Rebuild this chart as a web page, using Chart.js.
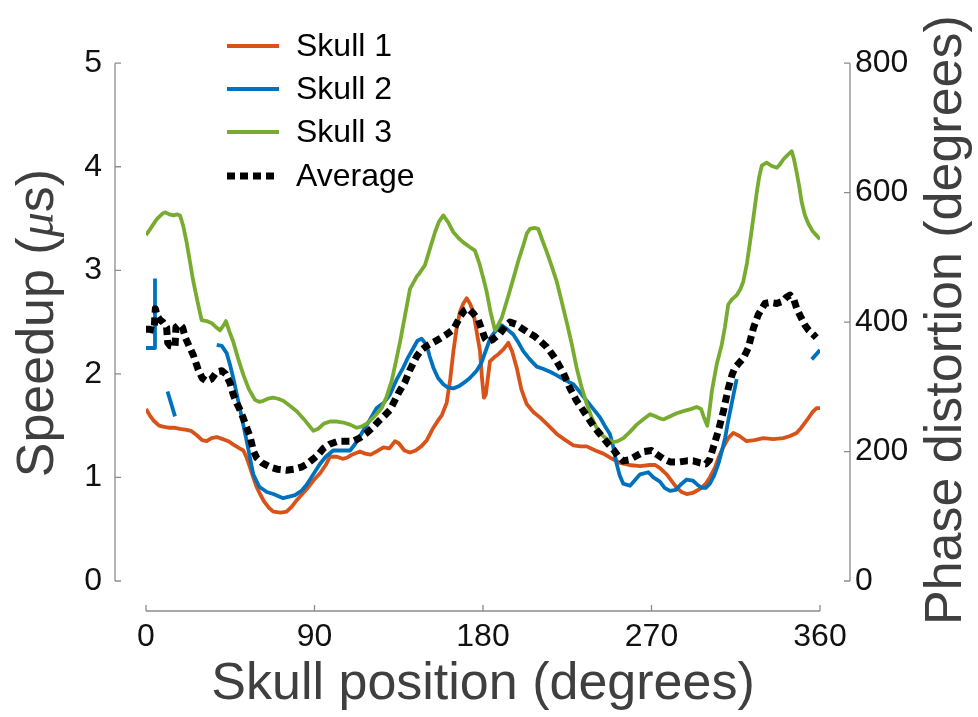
<!DOCTYPE html>
<html><head><meta charset="utf-8">
<script src="https://cdn.jsdelivr.net/npm/chart.js@4/dist/chart.umd.min.js"></script>
<style>html,body{margin:0;padding:0;background:#fff;overflow:hidden}canvas{display:block}</style>
</head><body>
<canvas id="c" width="978" height="717"></canvas>
<script>
// ---- data ----
const xTicks = [0, 90, 180, 270, 360];
const leftTicks = [0, 1, 2, 3, 4, 5];
const rightTicks = [0, 200, 400, 600, 800];
const seriesNames = ['Skull 1', 'Skull 2', 'Skull 3', 'Average'];
const xTitle = 'Skull position (degrees)';
const leftTitle = ['Speedup (', 'μ', 's)'];
const rightTitle = 'Phase distortion (degrees)';

// [degrees, speedup]
const skull1 = [[0,1.66],[2,1.6],[4,1.55],[7,1.5],[9,1.49],[12,1.48],[15,1.48],[18,1.47],[21.7,1.46],[24,1.45],[27,1.41],[30,1.36],[32.4,1.35],[35,1.38],[37.8,1.39],[41,1.37],[44,1.35],[46.5,1.32],[50,1.28],[52,1.26],[53.8,1.19],[55.5,1.1],[57.3,1.0],[59,0.91],[60.9,0.84],[63,0.77],[65.5,0.71],[68,0.67],[72,0.66],[75.1,0.67],[78,0.72],[80.5,0.78],[83,0.83],[86,0.89],[89.4,0.97],[93,1.04],[96,1.12],[98.3,1.2],[102,1.2],[105,1.18],[107.2,1.19],[110,1.22],[114.3,1.25],[117,1.23],[120,1.22],[123,1.25],[126.8,1.29],[130,1.28],[133,1.35],[135,1.33],[138,1.26],[141,1.24],[144,1.26],[147,1.3],[150,1.36],[153.5,1.48],[156,1.55],[158,1.6],[160.6,1.72],[162.5,1.95],[164.2,2.22],[166,2.45],[167.7,2.6],[169.5,2.68],[171.3,2.73],[173,2.68],[174.8,2.6],[176.5,2.42],[178.4,2.22],[179.5,1.95],[180.5,1.77],[181.5,1.8],[183.7,2.12],[186,2.16],[188.2,2.19],[191,2.24],[193.5,2.3],[195.5,2.22],[198,2.06],[200.5,1.85],[203.3,1.71],[207,1.63],[210.4,1.58],[215,1.5],[219.4,1.42],[224,1.36],[228.3,1.31],[232,1.3],[235.4,1.3],[240,1.26],[244.3,1.23],[249,1.18],[253.2,1.14],[258,1.12],[263.9,1.11],[269,1.12],[272,1.12],[274.5,1.09],[278.1,1.03],[281,0.96],[283.5,0.9],[286,0.86],[288.8,0.84],[292,0.85],[295.9,0.89],[299,0.94],[301.2,1.0],[304,1.1],[306,1.2],[308.3,1.29],[311,1.38],[313.7,1.43],[317,1.4],[320.8,1.35],[325,1.36],[329.7,1.38],[335,1.37],[340.4,1.38],[344,1.4],[347.5,1.43],[350,1.48],[352.9,1.55],[356,1.63],[358.2,1.67],[360,1.67]];

// null = missing sample (gap in the line)
const skull2 = [[0,2.25],[4.4,2.25],[4.8,2.92],[7,null],[11.5,1.83],[15.5,1.59],[25,null],[37.8,2.28],[40.5,2.27],[43.1,2.2],[45,2.08],[46.6,1.96],[50.2,1.66],[53.8,1.35],[57.3,1.03],[60.5,0.91],[64.5,0.86],[68,0.84],[73.3,0.8],[79.6,0.83],[83,0.87],[85.8,0.93],[89.4,1.03],[92.9,1.13],[96,1.2],[100,1.26],[105,1.26],[109,1.26],[112,1.33],[116,1.45],[120,1.57],[123.2,1.67],[127,1.72],[130.3,1.8],[134,1.95],[137.4,2.06],[140,2.16],[142.8,2.25],[145,2.32],[147.2,2.34],[149.9,2.28],[151.5,2.17],[153.5,2.06],[156,1.96],[158.8,1.9],[161,1.87],[164.2,1.86],[167,1.88],[169.5,1.91],[173,1.96],[176.6,2.03],[179,2.1],[182,2.25],[184,2.35],[187,2.42],[190,2.47],[193,2.43],[196.2,2.38],[199,2.3],[201.5,2.22],[205,2.14],[208.7,2.07],[212,2.05],[215.8,2.02],[219,1.99],[222.9,1.95],[226,1.92],[228.3,1.9],[232,1.82],[235.4,1.74],[239,1.66],[242.5,1.58],[245,1.5],[247.8,1.42],[249.5,1.3],[251.4,1.13],[253,1.02],[254.9,0.94],[258.5,0.92],[261,0.97],[263.9,1.03],[268.3,1.05],[271,1.0],[274.5,0.96],[277,0.9],[279.9,0.87],[283,0.88],[285.5,0.93],[288.8,0.98],[292,0.97],[294.5,0.93],[296.8,0.9],[299,0.9],[301.2,0.94],[303.5,1.02],[305.7,1.13],[307.5,1.25],[309.3,1.38],[311,1.55],[312.8,1.71],[315.5,1.95],[320,null],[355.6,2.14],[360,2.23]];

const skull3 = [[0,3.34],[3,3.42],[6,3.5],[9,3.55],[10.1,3.56],[12.5,3.54],[14.6,3.53],[16.5,3.54],[18.2,3.53],[20,3.42],[21.7,3.27],[23.5,3.08],[25.3,2.89],[27.5,2.7],[29.7,2.52],[32.4,2.51],[35.1,2.49],[37.5,2.45],[39.5,2.42],[41.5,2.47],[42.7,2.51],[44.5,2.41],[46.6,2.31],[49,2.16],[52,1.99],[55,1.85],[58.2,1.75],[60.5,1.73],[62.7,1.74],[65,1.76],[68,1.77],[70.5,1.76],[73.3,1.74],[77,1.69],[80.5,1.64],[84,1.57],[86.7,1.51],[89.4,1.45],[92,1.47],[95,1.52],[98.3,1.54],[102,1.54],[105.4,1.53],[109,1.51],[112.5,1.48],[115,1.49],[117.9,1.52],[121,1.57],[123.5,1.62],[125.9,1.67],[128.5,1.78],[131.2,1.93],[133.5,2.12],[135.7,2.31],[138.5,2.58],[141,2.82],[144.6,2.94],[146,2.97],[149,3.05],[151.5,3.2],[154.4,3.37],[156.5,3.47],[158.8,3.53],[161.5,3.46],[164.1,3.37],[167,3.31],[169.5,3.27],[172.5,3.23],[175.7,3.19],[178,3.07],[180.2,2.92],[182,2.79],[184,2.6],[186.4,2.42],[188,2.47],[190,2.54],[193,2.72],[196.2,2.92],[199,3.1],[201.5,3.24],[203.5,3.36],[205.1,3.4],[207.5,3.41],[209.5,3.4],[211.5,3.3],[214,3.18],[216.5,3.05],[219.4,2.89],[222,2.7],[224.7,2.5],[227.5,2.28],[230,2.06],[232.5,1.88],[235.4,1.71],[238,1.58],[240.7,1.48],[243,1.42],[246,1.37],[249.6,1.34],[252,1.35],[255,1.38],[258.5,1.44],[262.1,1.51],[265.5,1.56],[269.2,1.61],[272,1.59],[274.5,1.57],[276.3,1.56],[280,1.59],[283.5,1.62],[287,1.64],[291,1.66],[294.1,1.68],[296.5,1.66],[298,1.58],[299.8,1.5],[301,1.65],[302.2,1.83],[304.8,2.09],[307.5,2.28],[309.2,2.45],[311,2.67],[313,2.72],[315.5,2.76],[317.5,2.82],[319,2.89],[321,3.07],[322.6,3.27],[324.5,3.52],[326.2,3.75],[327.5,3.9],[328.9,4.01],[331.5,4.04],[334,4.01],[336.9,3.99],[338.5,4.02],[340.4,4.07],[342.5,4.11],[344.9,4.15],[346,4.08],[347.6,3.94],[349,3.8],[350.2,3.66],[352,3.53],[353.8,3.45],[356,3.38],[358,3.34],[360,3.3]];

const average = [[0,2.43],[2,2.43],[4.3,2.42],[5,2.63],[6,2.56],[7.5,2.52],[9,2.5],[11,2.45],[11.6,2.3],[13,2.27],[15.5,2.26],[16,2.45],[18,2.48],[19.5,2.45],[21,2.35],[23,2.27],[25.3,2.18],[27.9,2.04],[30,1.96],[32.4,1.93],[35,1.95],[37.8,2.02],[40.5,2.03],[42.5,2.0],[44.9,1.91],[46.6,1.8],[48.4,1.72],[50,1.66],[52,1.57],[54,1.47],[55.5,1.4],[57.3,1.26],[59.1,1.19],[62,1.14],[66.2,1.1],[70,1.08],[75,1.07],[79,1.08],[83,1.1],[86,1.13],[89.4,1.18],[92,1.22],[94.7,1.28],[98,1.32],[102.7,1.35],[107,1.35],[110.7,1.35],[114,1.38],[117.9,1.43],[121,1.48],[124.1,1.54],[127,1.59],[130.3,1.65],[132.5,1.73],[135,1.82],[138.3,1.92],[141,2.04],[144.6,2.17],[147,2.23],[149.9,2.27],[153,2.3],[157,2.34],[160.5,2.38],[164.2,2.43],[166,2.49],[168,2.56],[170,2.61],[172.2,2.63],[175,2.58],[177.5,2.52],[179.5,2.42],[181.1,2.34],[182.5,2.31],[185,2.33],[189.1,2.39],[192,2.46],[194.4,2.5],[197.5,2.48],[200.7,2.44],[204,2.4],[207.8,2.36],[211,2.31],[214,2.26],[216.5,2.2],[218.5,2.15],[221,2.07],[222.9,2.01],[226.5,1.86],[230,1.74],[234.5,1.62],[238.9,1.5],[241.5,1.44],[244.3,1.38],[247,1.32],[249.6,1.27],[252,1.21],[254.9,1.16],[258,1.17],[262.1,1.21],[266,1.25],[270,1.26],[273,1.22],[276.3,1.18],[280,1.15],[285.2,1.15],[289,1.16],[292.3,1.16],[296,1.14],[299,1.13],[301,1.17],[303,1.29],[305.7,1.45],[308.4,1.64],[311,1.86],[313,1.99],[314.6,2.06],[317,2.11],[319,2.15],[321.7,2.25],[324.4,2.44],[327,2.57],[330.6,2.68],[333.5,2.69],[336.9,2.68],[340,2.7],[342,2.74],[344,2.76],[346,2.72],[347.6,2.63],[350,2.54],[352,2.47],[354,2.42],[356.4,2.38],[358,2.35]];

// ---- styling ----
const FONT = '"Liberation Sans", Arial, Helvetica, sans-serif';
const TICK_COLOR = '#111111';
const TITLE_COLOR = '#3f3f3f';
const AXIS_COLOR = '#8c8c8c';
const COLORS = ['#D95319', '#0072BD', '#77AC30', '#000000'];

const toPts = arr => arr.map(([x, y]) => ({x, y}));

const offsetAxesPlugin = {
  id: 'offsetAxes',
  afterDraw(chart) {
    const {ctx, chartArea: ca, scales: {x, y, y1}} = chart;
    const gap = 30, tl = 6;
    ctx.save();
    ctx.strokeStyle = AXIS_COLOR;
    ctx.lineWidth = 1.3;
    ctx.beginPath();
    // left axis
    const lx = ca.left - gap - 1;
    ctx.moveTo(lx, y.getPixelForValue(y.min));
    ctx.lineTo(lx, y.getPixelForValue(y.max));
    y.ticks.forEach(t => { const p = y.getPixelForValue(t.value); ctx.moveTo(lx, p); ctx.lineTo(lx + tl, p); });
    // right axis
    const rx = ca.right + gap;
    ctx.moveTo(rx, y1.getPixelForValue(y1.min));
    ctx.lineTo(rx, y1.getPixelForValue(y1.max));
    y1.ticks.forEach(t => { const p = y1.getPixelForValue(t.value); ctx.moveTo(rx, p); ctx.lineTo(rx - tl, p); });
    // bottom axis
    const by = ca.bottom + gap;
    ctx.moveTo(x.getPixelForValue(x.min), by);
    ctx.lineTo(x.getPixelForValue(x.max), by);
    x.ticks.forEach(t => { const p = x.getPixelForValue(t.value); ctx.moveTo(p, by); ctx.lineTo(p, by - tl); });
    ctx.stroke();

    // y axis titles (read bottom-to-top)
    const midY = (ca.top + ca.bottom) / 2;
    ctx.fillStyle = TITLE_COLOR;
    ctx.textBaseline = 'alphabetic';
    ctx.textAlign = 'left';
    // left title with italic mu
    const fonts = ['52px ' + FONT, 'italic 50px "Liberation Serif", "DejaVu Serif", serif', '52px ' + FONT];
    let total = 0;
    const widths = leftTitle.map((s, i) => { ctx.font = fonts[i]; const w = ctx.measureText(s).width; total += w; return w; });
    ctx.save();
    ctx.translate(53, midY + 1);
    ctx.rotate(-Math.PI / 2);
    let cx = -total / 2;
    leftTitle.forEach((s, i) => { ctx.font = fonts[i]; ctx.fillText(s, cx, 0); cx += widths[i]; });
    ctx.restore();
    // right title
    ctx.save();
    ctx.font = '52px ' + FONT;
    ctx.translate(961, midY - 2);
    ctx.rotate(-Math.PI / 2);
    ctx.textAlign = 'center';
    ctx.fillText(rightTitle, 0, 0);
    ctx.restore();

    // legend
    const rows = [46, 89, 132, 176];
    chart.data.datasets.forEach((ds, i) => {
      const ry = rows[i];
      ctx.save();
      ctx.strokeStyle = ds.borderColor;
      ctx.lineWidth = ds.borderWidth;
      ctx.setLineDash(ds.borderDash || []);
      ctx.lineCap = 'butt';
      ctx.beginPath();
      ctx.moveTo(227, ry);
      ctx.lineTo(279, ry);
      ctx.stroke();
      ctx.restore();
      ctx.fillStyle = '#000';
      ctx.font = '32px ' + FONT;
      ctx.textAlign = 'left';
      ctx.textBaseline = 'middle';
      ctx.fillText(ds.label, 296, ry + 1);
    });
    ctx.restore();
  }
};

const series = [skull1, skull2, skull3, average];
const datasets = series.map((s, i) => ({
  label: seriesNames[i],
  data: toPts(s),
  borderColor: COLORS[i],
  backgroundColor: COLORS[i],
  borderWidth: i === 3 ? 7 : 3.8,
  borderDash: i === 3 ? [8, 5] : undefined,
  borderCapStyle: 'butt',
  borderJoinStyle: 'round',
  pointRadius: 0,
  tension: 0,
  spanGaps: false,
  fill: false,
  order: 3 - i,
  yAxisID: 'y'
}));

new Chart(document.getElementById('c'), {
  type: 'line',
  data: {datasets},
  plugins: [offsetAxesPlugin],
  options: {
    responsive: false,
    animation: false,
    devicePixelRatio: 1,
    layout: {padding: {top: 60, left: 0, right: 0, bottom: 0}},
    plugins: {legend: {display: false}, tooltip: {enabled: false}},
    scales: {
      x: {
        type: 'linear', position: 'bottom', min: 0, max: 360,
        afterBuildTicks: s => { s.ticks = xTicks.map(v => ({value: v})); },
        afterFit: s => { s.height = 136; },
        grid: {display: false, drawTicks: false},
        border: {display: false},
        ticks: {font: {family: FONT, size: 32}, color: TICK_COLOR, padding: 37, maxRotation: 0, autoSkip: false},
        title: {display: true, text: xTitle, font: {family: FONT, size: 52}, color: TITLE_COLOR, padding: {top: 0, bottom: 1}}
      },
      y: {
        type: 'linear', position: 'left', min: 0, max: 5,
        afterBuildTicks: s => { s.ticks = leftTicks.map(v => ({value: v})); },
        afterFit: s => { s.width = 146; },
        grid: {display: false, drawTicks: false},
        border: {display: false},
        ticks: {font: {family: FONT, size: 32}, color: TICK_COLOR, padding: 44},
        title: {display: false}
      },
      y1: {
        type: 'linear', position: 'right', min: 0, max: 800,
        afterBuildTicks: s => { s.ticks = rightTicks.map(v => ({value: v})); },
        afterFit: s => { s.width = 158; },
        grid: {display: false, drawTicks: false},
        border: {display: false},
        ticks: {font: {family: FONT, size: 32}, color: TICK_COLOR, padding: 35},
        title: {display: false}
      }
    }
  }
});
</script>
</body></html>
